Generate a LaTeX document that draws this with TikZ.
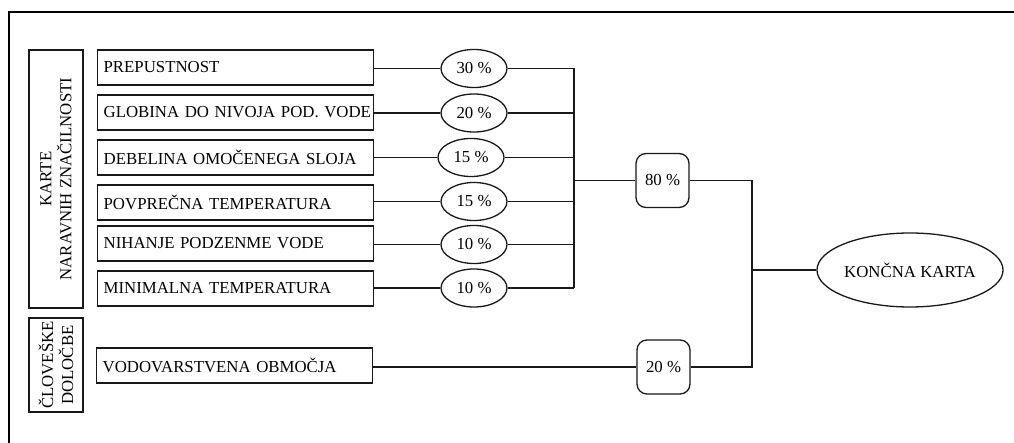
\documentclass[tikz,border=0pt]{standalone}
\usepackage{fontspec}
\setmainfont{Liberation Serif}
\usetikzlibrary{shapes.geometric}
\begin{document}
\begin{tikzpicture}[x=1pt,y=-1pt,
  every node/.style={font=\fontsize{16.8}{20}\selectfont},
  conn/.style={line width=1.3pt,draw=black!90},
  inbox/.style={draw=black!90,line width=1.3pt,rectangle,text width=264pt,align=left,inner xsep=6pt,minimum height=35pt,anchor=west},
  weight/.style={draw=black!90,line width=1.3pt,ellipse,minimum width=66pt,minimum height=38pt,inner sep=0pt},
  group/.style={draw=black!90,line width=1.3pt,rectangle,rounded corners=10pt,minimum width=53pt,minimum height=54pt,inner sep=0pt},
  side/.style={draw=black!90,line width=1.3pt,rectangle,rotate=90,align=center,minimum height=54pt,inner sep=2pt}]
\useasboundingbox (0,0) rectangle (1014,443);
\draw[line width=1.4pt] (9,443) -- (9,12) -- (1014,12);
% side labels
\node[side,minimum width=258pt] (s1) at (56,179) {KARTE\\NARAVNIH ZNAČILNOSTI};
\node[side,minimum width=94pt] (s2) at (56,365) {ČLOVEŠKE\\DOLOČBE};
% inputs
\node[inbox] (i1) at (97,67.5) {PREPUSTNOST};
\node[inbox] (i2) at (97,112.5) {\mbox{GLOBINA DO NIVOJA POD. VODE}};
\node[inbox] (i3) at (97,157.5) {DEBELINA OMOČENEGA SLOJA};
\node[inbox] (i4) at (97,202.5) {POVPREČNA TEMPERATURA};
\node[inbox] (i5) at (97,243.5) {NIHANJE PODZENME VODE};
\node[inbox] (i6) at (97,288.5) {MINIMALNA TEMPERATURA};
\node[inbox] (i7) at (96,365.5) {VODOVARSTVENA OBMOČJA};
% weights
\node[weight] (e1) at (474,68.5) {30 \%};
\node[weight] (e2) at (474,113) {20 \%};
\node[weight] (e3) at (471,157.5) {15 \%};
\node[weight] (e4) at (474,201.5) {15 \%};
\node[weight] (e5) at (474,244.5) {10 \%};
\node[weight] (e6) at (474,288) {10 \%};
\node[group] (p80) at (662.5,180.5) {80 \%};
\node[group] (p20) at (663.5,367) {20 \%};
\node[draw=black!90,line width=1.3pt,ellipse,minimum width=184pt,minimum height=74pt,inner sep=0pt] (fin) at (910,270) {KONČNA KARTA};
\coordinate (bus) at (574,180.5);
\coordinate (j) at (752,270);
% connectors
\foreach \k in {1,...,6}{
  \draw[conn] (i\k.east |- e\k) -- (e\k.west);
  \draw[conn] (e\k.east) -- (e\k.east -| bus);
}
\draw[conn] (e1.east -| bus) -- (e6.east -| bus);
\draw[conn] (bus) -- (p80.west);
\draw[conn] (i7.east |- p20) -- (p20.west);
\draw[conn] (p80.east) -| (j);
\draw[conn] (p20.east) -| (j);
\draw[conn] (j) -- (fin.west);
\end{tikzpicture}
\end{document}
